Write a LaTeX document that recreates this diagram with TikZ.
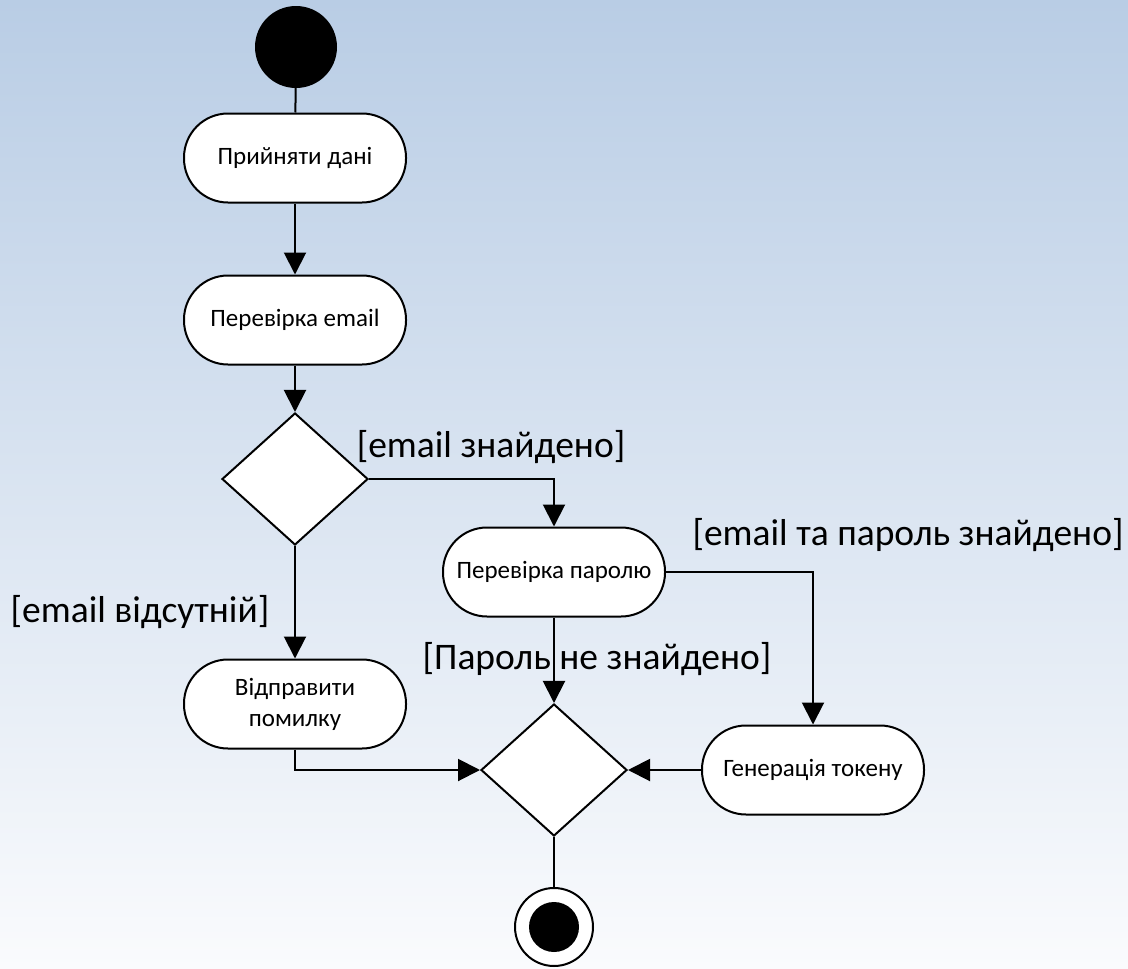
\documentclass[tikz,border=0pt]{standalone}
\usepackage{fontspec}
\setmainfont{Carlito}
\usetikzlibrary{arrows.meta,shapes.geometric}
\definecolor{bgtop}{RGB}{185,205,229}
\definecolor{bgbot}{RGB}{250,251,253}
\tikzset{
  act/.style={draw=black, line width=2pt, fill=white, rectangle, rounded corners=44pt,
    minimum width=222pt, minimum height=89pt, align=center, inner sep=2pt,
    font=\fontsize{25}{31}\selectfont},
  dec/.style={draw=black, line width=2pt, fill=white, diamond, minimum width=146pt,
    minimum height=132pt, inner sep=0pt},
  conn/.style={line width=2pt, draw=black},
  arr/.style={conn, -{Triangle[length=22pt,width=22pt]}},
  guard/.style={font=\fontsize{37.5}{42}\selectfont, inner sep=0pt}
}
\begin{document}
\begin{tikzpicture}[x=1pt,y=-1pt]
\shade[top color=bgtop, bottom color=bgbot] (0,0) rectangle (1128,969);
\useasboundingbox (0,0) rectangle (1128,969);
\node[circle, fill=black, minimum size=82pt, inner sep=0pt] (start) at (296,47) {};
\node[act] (b1) at (295,158) {Прийняти дані};
\node[act] (b2) at (295,320) {Перевірка email};
\node[dec] (d1) at (295,479) {};
\node[act] (b3) at (554,572) {Перевірка паролю};
\node[act] (b4) at (295,704) {Відправити\\помилку};
\node[dec] (d2) at (554,770) {};
\node[act] (b5) at (813,770) {Генерація токену};
\node[circle, draw=black, line width=2pt, fill=white, minimum size=78pt, inner sep=0pt] (end) at (554,927) {};
\node[circle, fill=black, minimum size=50pt, inner sep=0pt] (endin) at (end.center) {};
\draw[conn] (start) -- (b1);
\draw[arr] (b1) -- (b2);
\draw[arr] (b2) -- (d1);
\draw[arr] (d1.east) -| (b3.north);
\draw[arr] (d1) -- (b4);
\draw[arr] (b3) -- (d2);
\draw[arr] (b3.east) -| (b5.north);
\draw[arr] (b5) -- (d2);
\draw[arr] (b4.south) |- (d2.west);
\draw[conn] (d2) -- (end);
\node[guard] (g1) at (491,447) {[email знайдено]};
\node[guard] (g2) at (908,535) {[email та пароль знайдено]};
\node[guard] (g3) at (140,612) {[email відсутній]};
\node[guard] (g4) at (597,659) {[Пароль не знайдено]};
\end{tikzpicture}
\end{document}
